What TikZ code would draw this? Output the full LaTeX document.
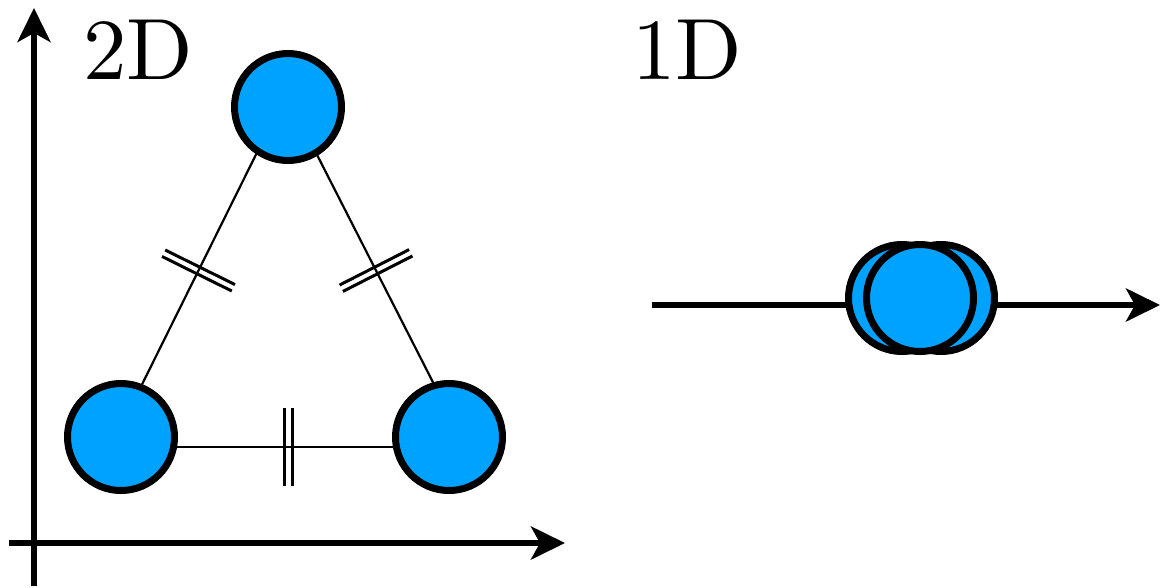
\documentclass[tikz,border=0pt]{standalone}
\usepackage{fontspec}
\newfontfamily\lmten{lmroman10-regular}[Extension=.otf]
\usetikzlibrary{arrows.meta,decorations.markings}
\definecolor{ballblue}{RGB}{0,162,255}
\begin{document}
\begin{tikzpicture}[x=1pt,y=-1pt,
  ball/.style={circle,draw=black,line width=7pt,fill=ballblue,minimum size=107pt,inner sep=0pt},
  axis/.style={line width=6pt,-{Stealth[length=34pt,width=33pt,inset=9pt]}},
  edge/.style={line width=2.2pt,postaction={decorate},decoration={markings,
    mark=at position 0.5 with {\draw[line width=3pt] (-3.6pt,-39pt)--(-3.6pt,39pt);
                               \draw[line width=3pt] (3.6pt,-39pt)--(3.6pt,39pt);}}},
  lab/.style={font=\lmten\fontsize{87}{87}\selectfont,inner sep=0pt,anchor=base west}]
\useasboundingbox (0,0) rectangle (1161,587);
% axes
\coordinate (yb) at (34,586);
\coordinate (yt) at (34,8);
\coordinate (xl) at (9,543);
\coordinate (xr) at (565,543);
\draw[axis] (yb) -- (yt);
\draw[axis] (xl) -- (xr);
% triangle
\coordinate (A) at (111,447);
\coordinate (B) at (466,447);
\coordinate (C) at (286,94);
\draw[edge] (A) -- (B);
\draw[edge] (A) -- (C);
\draw[edge] (B) -- (C);
\node[ball] (bl) at (121,437) {};
\node[ball] (br) at (449,437) {};
\node[ball] (tp) at (288,107) {};
% labels
\node[lab] (l2) at (83,79) {2D};
\node[lab] (l1) at (632,79) {1D};
% 1D
\coordinate (ol) at (652,305);
\coordinate (or) at (1160,305);
\draw[axis] (ol) -- (or);
\node[ball] (c1) at (902,298) {};
\node[ball] (c3) at (941,298) {};
\node[ball] (c2) at (920,298) {};
\end{tikzpicture}
\end{document}
